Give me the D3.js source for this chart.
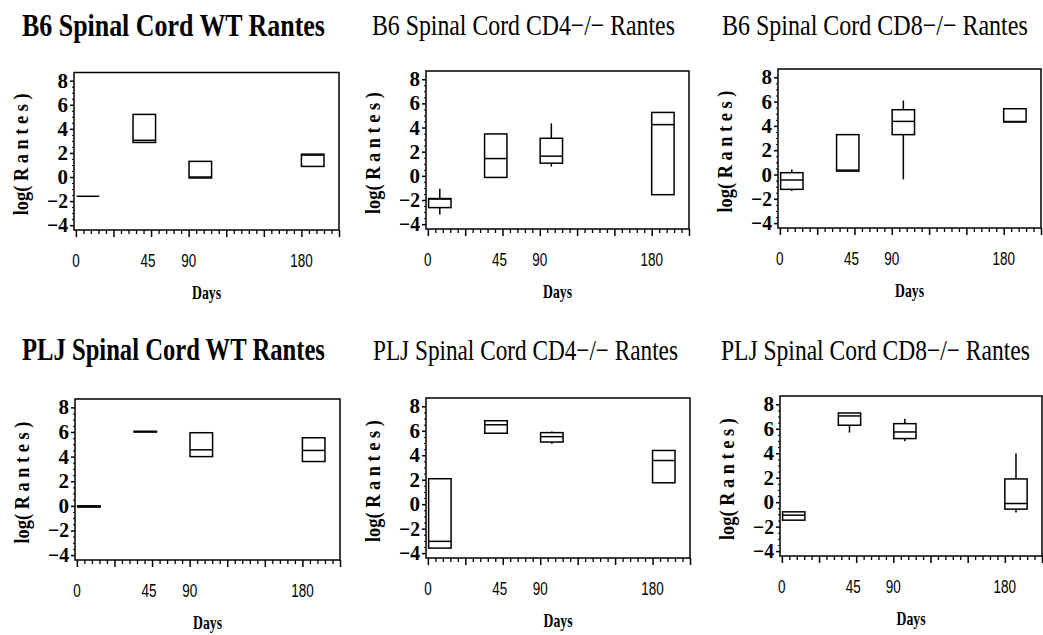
<!DOCTYPE html>
<html><head><meta charset="utf-8">
<script src="https://cdn.jsdelivr.net/npm/d3@7"></script>
<style>body{margin:0;background:#fff}svg{display:block}</style>
</head><body>
<script>
// ---- data ----
const titles = [
  "B6 Spinal Cord WT Rantes", "B6 Spinal Cord CD4\u2212/\u2212 Rantes", "B6 Spinal Cord CD8\u2212/\u2212 Rantes",
  "PLJ Spinal Cord WT Rantes", "PLJ Spinal Cord CD4\u2212/\u2212 Rantes", "PLJ Spinal Cord CD8\u2212/\u2212 Rantes"
];
const dayLabels = ["0", "45", "90", "180"];
const dayTickPos = [0, 2, 3, 6];
const boxX = [0.32, 1.82, 3.31, 6.3];
const yTicks = [-4, -2, 0, 2, 4, 6, 8];
// each box: [whiskerLow, Q1, median, Q3, whiskerHigh]
const b6WT = [[-1.6,-1.6,-1.6,-1.6,-1.6],[2.87,2.87,3.05,5.2,5.2],[-0.08,-0.08,0.0,1.3,1.3],[0.88,0.88,1.82,1.9,1.9]];
const b6CD4 = [[-3.2,-2.63,-1.92,-1.88,-1.07],[-0.13,-0.13,1.43,3.47,3.47],[0.77,1.05,1.63,3.11,4.35],[-1.56,-1.56,4.24,5.25,5.25]];
const b6CD8 = [[-1.35,-1.22,-0.45,0.15,0.42],[0.28,0.28,0.36,3.28,3.28],[-0.4,3.28,4.37,5.33,6.09],[4.32,4.32,4.36,5.41,5.41]];
const pljWT = [[-0.1,-0.1,-0.05,0.0,0.0],[6.0,6.0,6.02,6.06,6.06],[4.0,4.0,4.55,5.94,5.94],[3.6,3.6,4.5,5.53,5.53]];
const pljCD4 = [[-3.59,-3.59,-3.04,2.08,2.08],[5.8,5.8,6.49,6.82,6.82],[4.94,5.08,5.52,5.85,5.94],[1.75,1.75,3.57,4.39,4.39]];
const pljCD8 = [[-1.47,-1.47,-1.06,-0.79,-0.79],[5.69,6.29,7.05,7.29,7.29],[4.98,5.2,5.74,6.42,6.83],[-0.84,-0.57,-0.11,1.90,3.97]];
const panelData = [b6WT, b6CD4, b6CD8, pljWT, pljCD4, pljCD8];

// ---- layout ----
const panels = [
  {x0:74, x1:339, y0:72.5, y1:230, tx:22, tw:303, ty:36, bold:true},
  {x0:426, x1:689, y0:71, y1:229, tx:372, tw:303, ty:35, bold:false},
  {x0:778, x1:1041, y0:69, y1:228, tx:722, tw:306, ty:35, bold:false},
  {x0:75, x1:340, y0:399, y1:560, tx:22, tw:303, ty:360, bold:true},
  {x0:426, x1:690, y0:398, y1:558, tx:373, tw:305, ty:360, bold:false},
  {x0:780, x1:1042, y0:396, y1:556, tx:721, tw:309, ty:360, bold:false}
];

const svg = d3.select("body").append("svg").attr("width", 1043).attr("height", 635);
const serif = "'Liberation Serif','DejaVu Serif',serif";
const narrow = "'Liberation Sans Narrow','Liberation Sans',sans-serif";

// text squeezed horizontally to a target width; anchor: 0 start, 0.5 middle, 1 end
function fitText(parent, str, x, y, width, anchor, font, size, weight, rotate) {
  const g = parent.append("g");
  const t = g.append("text").attr("x", 0).attr("y", 0)
    .attr("font-family", font).attr("font-size", size).attr("font-weight", weight)
    .attr("fill", "#000").text(str);
  const w = t.node().getComputedTextLength();
  const k = width / w;
  t.attr("x", -anchor * w);
  g.attr("transform", `translate(${x},${y})${rotate ? " rotate(" + rotate + ")" : ""} scale(${k},1)`);
  return g;
}

panels.forEach((p, i) => {
  const g = svg.append("g");
  const x = d3.scaleLinear().domain([-0.05, 7]).range([p.x0, p.x1]);
  const y = d3.scaleLinear().domain([-4.4, 8.68]).range([p.y1, p.y0]);

  // title
  fitText(g, titles[i], p.tx, p.ty, p.tw, 0, serif, p.bold ? 32 : 30, p.bold ? "bold" : "normal");

  // y axis minor ticks
  const yMinor = d3.range(-4, 8.01, 0.5).filter(v => !yTicks.includes(v));
  g.append("g").attr("transform", `translate(${p.x0},0)`)
    .call(d3.axisLeft(y).tickValues(yMinor).tickSize(2).tickFormat(""))
    .call(a => a.select(".domain").remove())
    .call(a => a.selectAll("line").attr("stroke", "#000").attr("stroke-width", 1));
  // y axis major ticks
  g.append("g").attr("transform", `translate(${p.x0},0)`)
    .call(d3.axisLeft(y).tickValues(yTicks).tickSize(4).tickFormat(""))
    .call(a => a.select(".domain").remove())
    .call(a => a.selectAll("line").attr("stroke", "#000").attr("stroke-width", 1.5));
  // y tick labels
  yTicks.forEach(v => {
    const s = v < 0 ? "\u2212" + Math.abs(v) : String(v);
    fitText(g, s, p.x0 - 6, y(v) + 7, v < 0 ? 21 : 10.5, 1, serif, 21, "bold");
  });

  // x axis minor ticks
  const xMinor = d3.range(0, 7.001, 0.2).filter(v => Math.abs(v - Math.round(v)) > 0.01);
  g.append("g").attr("transform", `translate(0,${p.y1})`)
    .call(d3.axisBottom(x).tickValues(xMinor).tickSize(4).tickFormat(""))
    .call(a => a.select(".domain").remove())
    .call(a => a.selectAll("line").attr("stroke", "#000").attr("stroke-width", 1.3));
  // x axis major ticks
  g.append("g").attr("transform", `translate(0,${p.y1})`)
    .call(d3.axisBottom(x).tickValues(d3.range(0, 8)).tickSize(7).tickFormat(""))
    .call(a => a.select(".domain").remove())
    .call(a => a.selectAll("line").attr("stroke", "#000").attr("stroke-width", 1.5));
  // x tick labels
  dayLabels.forEach((d, j) => {
    fitText(g, d, x(dayTickPos[j]) - (d === "45" ? 3 : 0), p.y1 + 37, d.length * 7.5, 0.5, narrow, 19, "normal");
  });

  // axis titles
  fitText(g, "Days", (p.x0 + p.x1) / 2, p.y1 + 69, 29, 0.5, serif, 18, "bold");
  const cy = (p.y0 + p.y1) / 2 + 3;
  fitText(g, "log( R a n t e s )", p.x0 - 46, cy, 122, 0.5, serif, 22, "bold", -90);

  // frame
  g.append("rect").attr("x", p.x0).attr("y", p.y0)
    .attr("width", p.x1 - p.x0).attr("height", p.y1 - p.y0)
    .attr("fill", "none").attr("stroke", "#000").attr("stroke-width", 1.5);

  // boxes
  const hw = 0.3;
  panelData[i].forEach((s, j) => {
    const cx = x(boxX[j]);
    const xl = x(boxX[j] - hw), xr = x(boxX[j] + hw);
    if (s[4] > s[3]) g.append("line").attr("x1", cx).attr("x2", cx).attr("y1", y(s[4])).attr("y2", y(s[3])).attr("stroke", "#000").attr("stroke-width", 1.5);
    if (s[0] < s[1]) g.append("line").attr("x1", cx).attr("x2", cx).attr("y1", y(s[1])).attr("y2", y(s[0])).attr("stroke", "#000").attr("stroke-width", 1.5);
    g.append("rect").attr("x", xl).attr("y", y(s[3])).attr("width", xr - xl)
      .attr("height", Math.max(0, y(s[1]) - y(s[3])))
      .attr("fill", "none").attr("stroke", "#000").attr("stroke-width", 1.5);
    g.append("line").attr("x1", xl).attr("x2", xr).attr("y1", y(s[2])).attr("y2", y(s[2]))
      .attr("stroke", "#000").attr("stroke-width", 1.5);
  });
});
</script>
</body></html>
